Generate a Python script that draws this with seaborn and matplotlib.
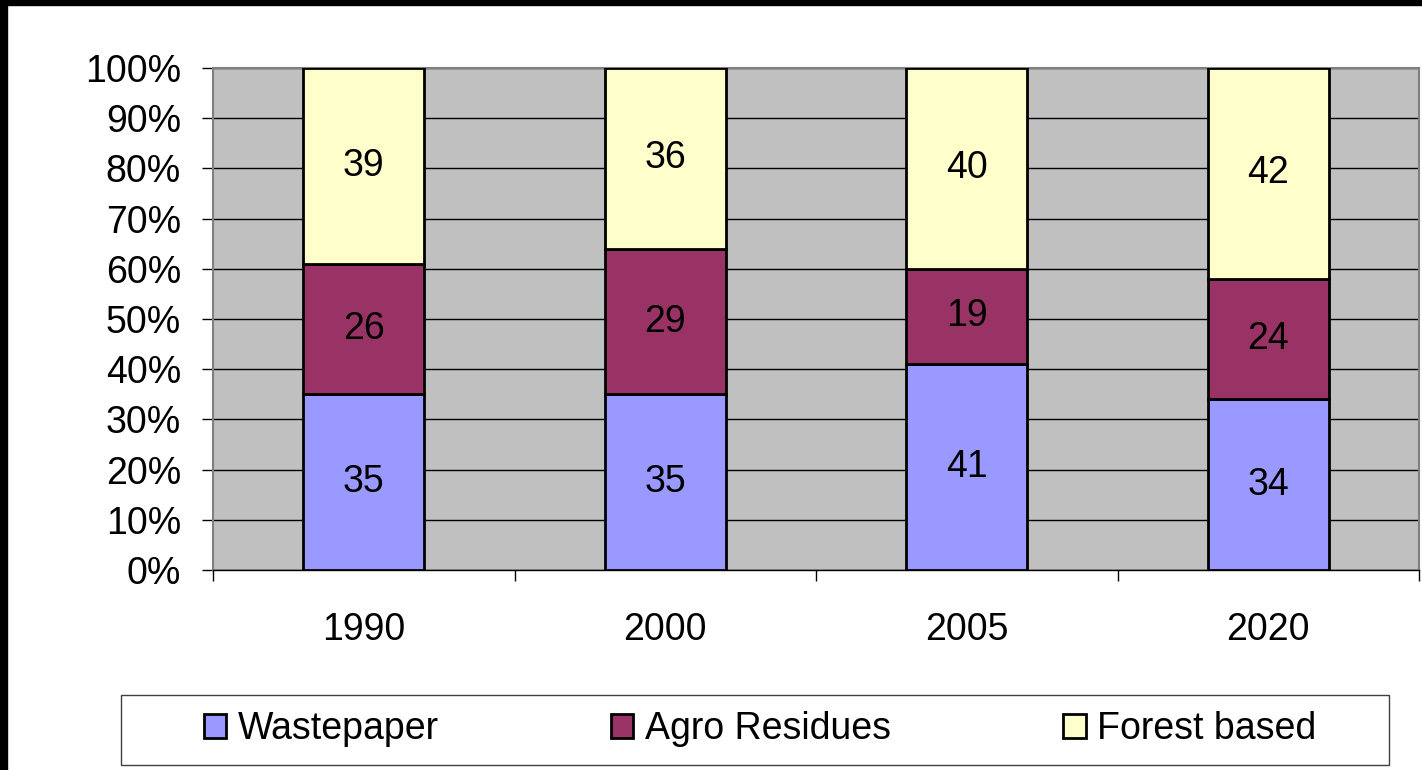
import matplotlib
matplotlib.use("Agg")
import matplotlib.pyplot as plt
import seaborn as sns
import pandas as pd
import numpy as np
from matplotlib.patches import Rectangle
from matplotlib.ticker import PercentFormatter

years = ["1990", "2000", "2005", "2020"]
wastepaper = [35, 35, 41, 34]
agro_residues = [26, 29, 19, 24]
forest_based = [39, 36, 40, 42]

series = ["Wastepaper", "Agro Residues", "Forest based"]
colors = ["#9999FF", "#993366", "#FFFFCC"]

df = pd.DataFrame({"year": years, "Wastepaper": wastepaper,
                   "Agro Residues": agro_residues, "Forest based": forest_based})

sns.set_style("white")
plt.rcParams["font.family"] = ["Liberation Sans", "DejaVu Sans"]
plt.rcParams["text.color"] = "black"
plt.rcParams["xtick.color"] = "black"
plt.rcParams["ytick.color"] = "black"

fs = 27

fig = plt.figure(figsize=(14.22, 7.7), dpi=100)
ax = fig.add_axes([213 / 1422, 1 - 570 / 770, 1206 / 1422, 502 / 770])
ax.set_facecolor("#C0C0C0")

# stacked bars, one series at a time
bottom = np.zeros(len(years))
for name, col in zip(series, colors):
    sns.barplot(data=df, x="year", y=name, color=col, saturation=1, width=0.4,
                bottom=bottom, edgecolor="black", linewidth=2.0, label=name,
                ax=ax, zorder=3)
    bottom = bottom + df[name].values

for cont in ax.containers:
    ax.bar_label(cont, label_type="center", fontsize=fs, color="black")

ax.set_xlim(-0.5, len(years) - 0.5)
ax.set_ylim(0, 100)
ax.set_yticks(range(0, 101, 10))
ax.yaxis.set_major_formatter(PercentFormatter(decimals=0))
ax.grid(axis="y", color="black", linewidth=1.0, zorder=1)
ax.set_axisbelow(True)
ax.set_xlabel("")
ax.set_ylabel("")

ax.tick_params(axis="y", which="major", left=True, length=8, width=1, color="black",
               direction="out", pad=15, labelsize=fs)
ax.tick_params(axis="x", which="major", length=0, pad=30, labelsize=fs)
ax.set_xticks(np.arange(-0.5, len(years)), minor=True)
ax.tick_params(axis="x", which="minor", bottom=True, length=8, width=1,
               color="black", direction="out")

for side in ["top", "right", "left"]:
    ax.spines[side].set_color("#808080")
    ax.spines[side].set_linewidth(1.5)
ax.spines["bottom"].set_color("black")
ax.spines["bottom"].set_linewidth(1.0)

if ax.get_legend() is not None:
    ax.get_legend().remove()
handles, labels = ax.get_legend_handles_labels()
leg = fig.legend(handles[:3], labels[:3], ncol=3, loc="center",
                 bbox_to_anchor=(760 / 1422, 1 - 729 / 770),
                 fontsize=fs, frameon=False, handlelength=0.6,
                 handleheight=0.6, handletextpad=0.3, columnspacing=4.6)

# legend box
fig.add_artist(Rectangle((121 / 1422, 5 / 770), 1268 / 1422, 70 / 770,
                         transform=fig.transFigure, facecolor="none",
                         edgecolor="#404040", linewidth=1.0, zorder=5))

# black frame at left and top edge of the picture
fig.add_artist(Rectangle((0, 0), 7 / 1422, 1, transform=fig.transFigure,
                         color="black", zorder=10))
fig.add_artist(Rectangle((0, 1 - 5 / 770), 1, 5 / 770, transform=fig.transFigure,
                         color="black", zorder=10))

fig.savefig("out.png", dpi=100)
